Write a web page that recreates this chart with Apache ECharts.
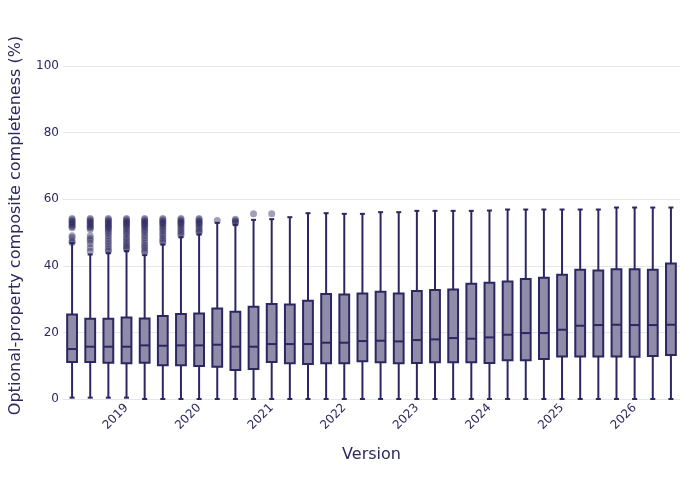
<!DOCTYPE html>
<html>
<head>
<meta charset="utf-8">
<script src="https://cdn.jsdelivr.net/npm/echarts@6.0.0/dist/echarts.min.js"></script>
<style>
  html, body { margin: 0; padding: 0; background: #fff; }
  #chart { width: 700px; height: 500px; }
</style>
</head>
<body>
<div id="chart"></div>
<script>
  // quarterly versions, one box each
  const versions = [
    '2018-04', '2018-07', '2018-10',
    '2019-01', '2019-04', '2019-07', '2019-10',
    '2020-01', '2020-04', '2020-07', '2020-10',
    '2021-01', '2021-04', '2021-07', '2021-10',
    '2022-01', '2022-04', '2022-07', '2022-10',
    '2023-01', '2023-04', '2023-07', '2023-10',
    '2024-01', '2024-04', '2024-07', '2024-10',
    '2025-01', '2025-04', '2025-07', '2025-10',
    '2026-01', '2026-04', '2026-07'
  ];

  const lowerWhisker = [
    0.4, 0.4, 0.4, 0.4, 0, 0, 0, 0, 0, 0, 0, 0, 0, 0, 0, 0, 0,
    0, 0, 0, 0, 0, 0, 0, 0, 0, 0, 0, 0, 0, 0, 0, 0, 0
  ];
  const q1 = [
    11.1, 11.1, 10.9, 10.7, 10.9, 10.1, 10.1, 9.9, 9.7, 8.7, 9.0, 11.1,
    10.7, 10.5, 10.7, 10.7, 11.3, 11.0, 10.7, 10.8, 11.0, 11.0, 11.0, 10.8,
    11.6, 11.6, 12.0, 12.8, 12.8, 12.8, 12.8, 12.7, 12.9, 13.2
  ];
  const median = [
    15.0, 15.7, 15.7, 15.7, 16.1, 16.0, 16.1, 16.1, 16.3, 15.7, 15.7, 16.5,
    16.5, 16.5, 16.9, 16.9, 17.4, 17.5, 17.3, 17.7, 17.9, 18.3, 18.1, 18.5,
    19.3, 19.8, 19.8, 20.8, 22.0, 22.2, 22.3, 22.2, 22.2, 22.3
  ];
  const q3 = [
    25.4, 24.1, 24.1, 24.5, 24.2, 24.9, 25.5, 25.7, 27.2, 26.2, 27.7, 28.5,
    28.4, 29.5, 31.5, 31.4, 31.7, 32.2, 31.7, 32.4, 32.7, 32.9, 34.6, 34.9,
    35.3, 36.0, 36.4, 37.3, 38.8, 38.6, 39.0, 39.0, 38.8, 40.7
  ];
  const upperWhisker = [
    46.8, 43.4, 43.8, 44.4, 43.2, 46.4, 48.6, 49.4, 52.9, 52.3, 53.8, 54.0,
    54.6, 55.8, 55.8, 55.6, 55.6, 56.1, 56.1, 56.5, 56.5, 56.5, 56.5, 56.6,
    56.9, 56.9, 56.9, 56.9, 56.9, 56.9, 57.5, 57.5, 57.5, 57.5
  ];
  const outliers = [
    [54.2, 53.8, 53.4, 53, 52.6, 52.2, 51.8, 51.4, 49, 48.4, 47.4, 47],
    [54.2, 53.8, 53.4, 53, 52.6, 52.2, 51.8, 51.4, 51, 49, 48.2, 47.6, 46.6, 45.4, 44.4],
    [54.2, 53.8, 53.4, 53, 52.6, 52.2, 51.8, 51.4, 51, 50.4, 49.8, 49, 48.2, 47.4, 46.6, 45.8, 45, 44.4],
    [54.2, 53.8, 53.4, 53, 52.6, 52.2, 51.8, 51.2, 50.6, 50, 49.4, 48.6, 48, 47.2, 46.6, 46, 45.4, 45],
    [54.2, 53.8, 53.4, 53, 52.6, 52.2, 51.8, 51.2, 50.6, 50, 49.2, 48.4, 47.6, 46.8, 46, 45.4, 44.6, 44],
    [54.2, 53.8, 53.4, 53, 52.6, 52.2, 51.6, 51, 50.4, 49.6, 49, 48.2, 47.6, 47],
    [54.2, 53.8, 53.4, 53, 52.6, 52.2, 51.6, 51, 50.4, 49.8, 49.2],
    [54.2, 53.8, 53.4, 53, 52.6, 52.2, 51.6, 51, 50.4, 50],
    [53.6],
    [54, 53.6, 53.2, 52.8],
    [55.6],
    [55.6],
    [], [], [], [], [], [], [], [], [], [], [], [], [], [], [], [], [], [], [], [], [], []
  ];

  const yTicks = [0, 20, 40, 60, 80, 100];

  const LINE = '#2b2760';
  const FILL = '#8f8ba9';
  const TEXT = '#2b2a5e';
  const FONT = '"DejaVu Sans", Verdana, sans-serif';

  const boxData = versions.map((v, i) => [i, lowerWhisker[i], q1[i], median[i], q3[i], upperWhisker[i]]);

  const outlierData = [];
  outliers.forEach((list, i) => {
    list.forEach((val) => outlierData.push([i, val]));
  });

  const renderBox = (params, api) => {
    const i = api.value(0);
    const lo = api.coord([i, api.value(1)]);
    const b = api.coord([i, api.value(2)]);
    const m = api.coord([i, api.value(3)]);
    const t = api.coord([i, api.value(4)]);
    const hi = api.coord([i, api.value(5)]);
    const band = api.size([1, 0])[0];
    const half = band * 0.27;
    const cap = 2.5;
    const x = lo[0];
    const stroke = { stroke: LINE, lineWidth: 2 };

    return {
      type: 'group',
      children: [
        { type: 'line', shape: { x1: x, y1: lo[1], x2: x, y2: b[1] }, style: stroke },
        { type: 'line', shape: { x1: x, y1: t[1], x2: x, y2: hi[1] }, style: stroke },
        { type: 'line', shape: { x1: x - cap, y1: lo[1], x2: x + cap, y2: lo[1] }, style: stroke },
        { type: 'line', shape: { x1: x - cap, y1: hi[1], x2: x + cap, y2: hi[1] }, style: stroke },
        {
          type: 'rect',
          shape: { x: x - half, y: t[1], width: half * 2, height: b[1] - t[1] },
          style: { fill: FILL, stroke: LINE, lineWidth: 2 }
        },
        { type: 'line', shape: { x1: x - half, y1: m[1], x2: x + half, y2: m[1] }, style: stroke }
      ]
    };
  };

  const chart = echarts.init(document.getElementById('chart'));

  chart.setOption({
    animation: false,
    textStyle: { fontFamily: FONT },
    grid: { left: 61, right: 20, top: 66, bottom: 101 },
    xAxis: {
      type: 'category',
      data: versions,
      boundaryGap: true,
      name: 'Version',
      nameLocation: 'middle',
      nameGap: 48,
      nameTextStyle: { color: TEXT, fontSize: 16, fontFamily: FONT },
      axisLine: { show: false },
      axisTick: { show: false },
      axisLabel: {
        interval: 0,
        rotate: 45,
        margin: 7,
        color: TEXT,
        fontSize: 12,
        fontFamily: FONT,
        formatter: (v) => (v.endsWith('-01') ? v.slice(0, 4) : '')
      },
      splitLine: { show: false }
    },
    yAxis: {
      type: 'value',
      min: yTicks[0],
      max: yTicks[yTicks.length - 1],
      interval: 20,
      name: 'Optional-property composite completeness (%)',
      nameLocation: 'middle',
      nameGap: 39,
      nameTextStyle: { color: TEXT, fontSize: 16, fontFamily: FONT, padding: [0, 0, 0, 14] },
      axisLine: { show: false },
      axisTick: { show: false },
      axisLabel: { color: TEXT, fontSize: 12, fontFamily: FONT, margin: 4 },
      splitLine: { lineStyle: { color: '#e6e6e6', width: 1 } }
    },
    series: [
      {
        type: 'custom',
        renderItem: renderBox,
        encode: { x: 0, y: [1, 2, 3, 4, 5] },
        data: boxData,
        z: 2
      },
      {
        type: 'scatter',
        data: outlierData,
        symbolSize: 7,
        itemStyle: { color: 'rgba(43, 39, 96, 0.55)' },
        z: 3
      }
    ]
  });
</script>
</body>
</html>
